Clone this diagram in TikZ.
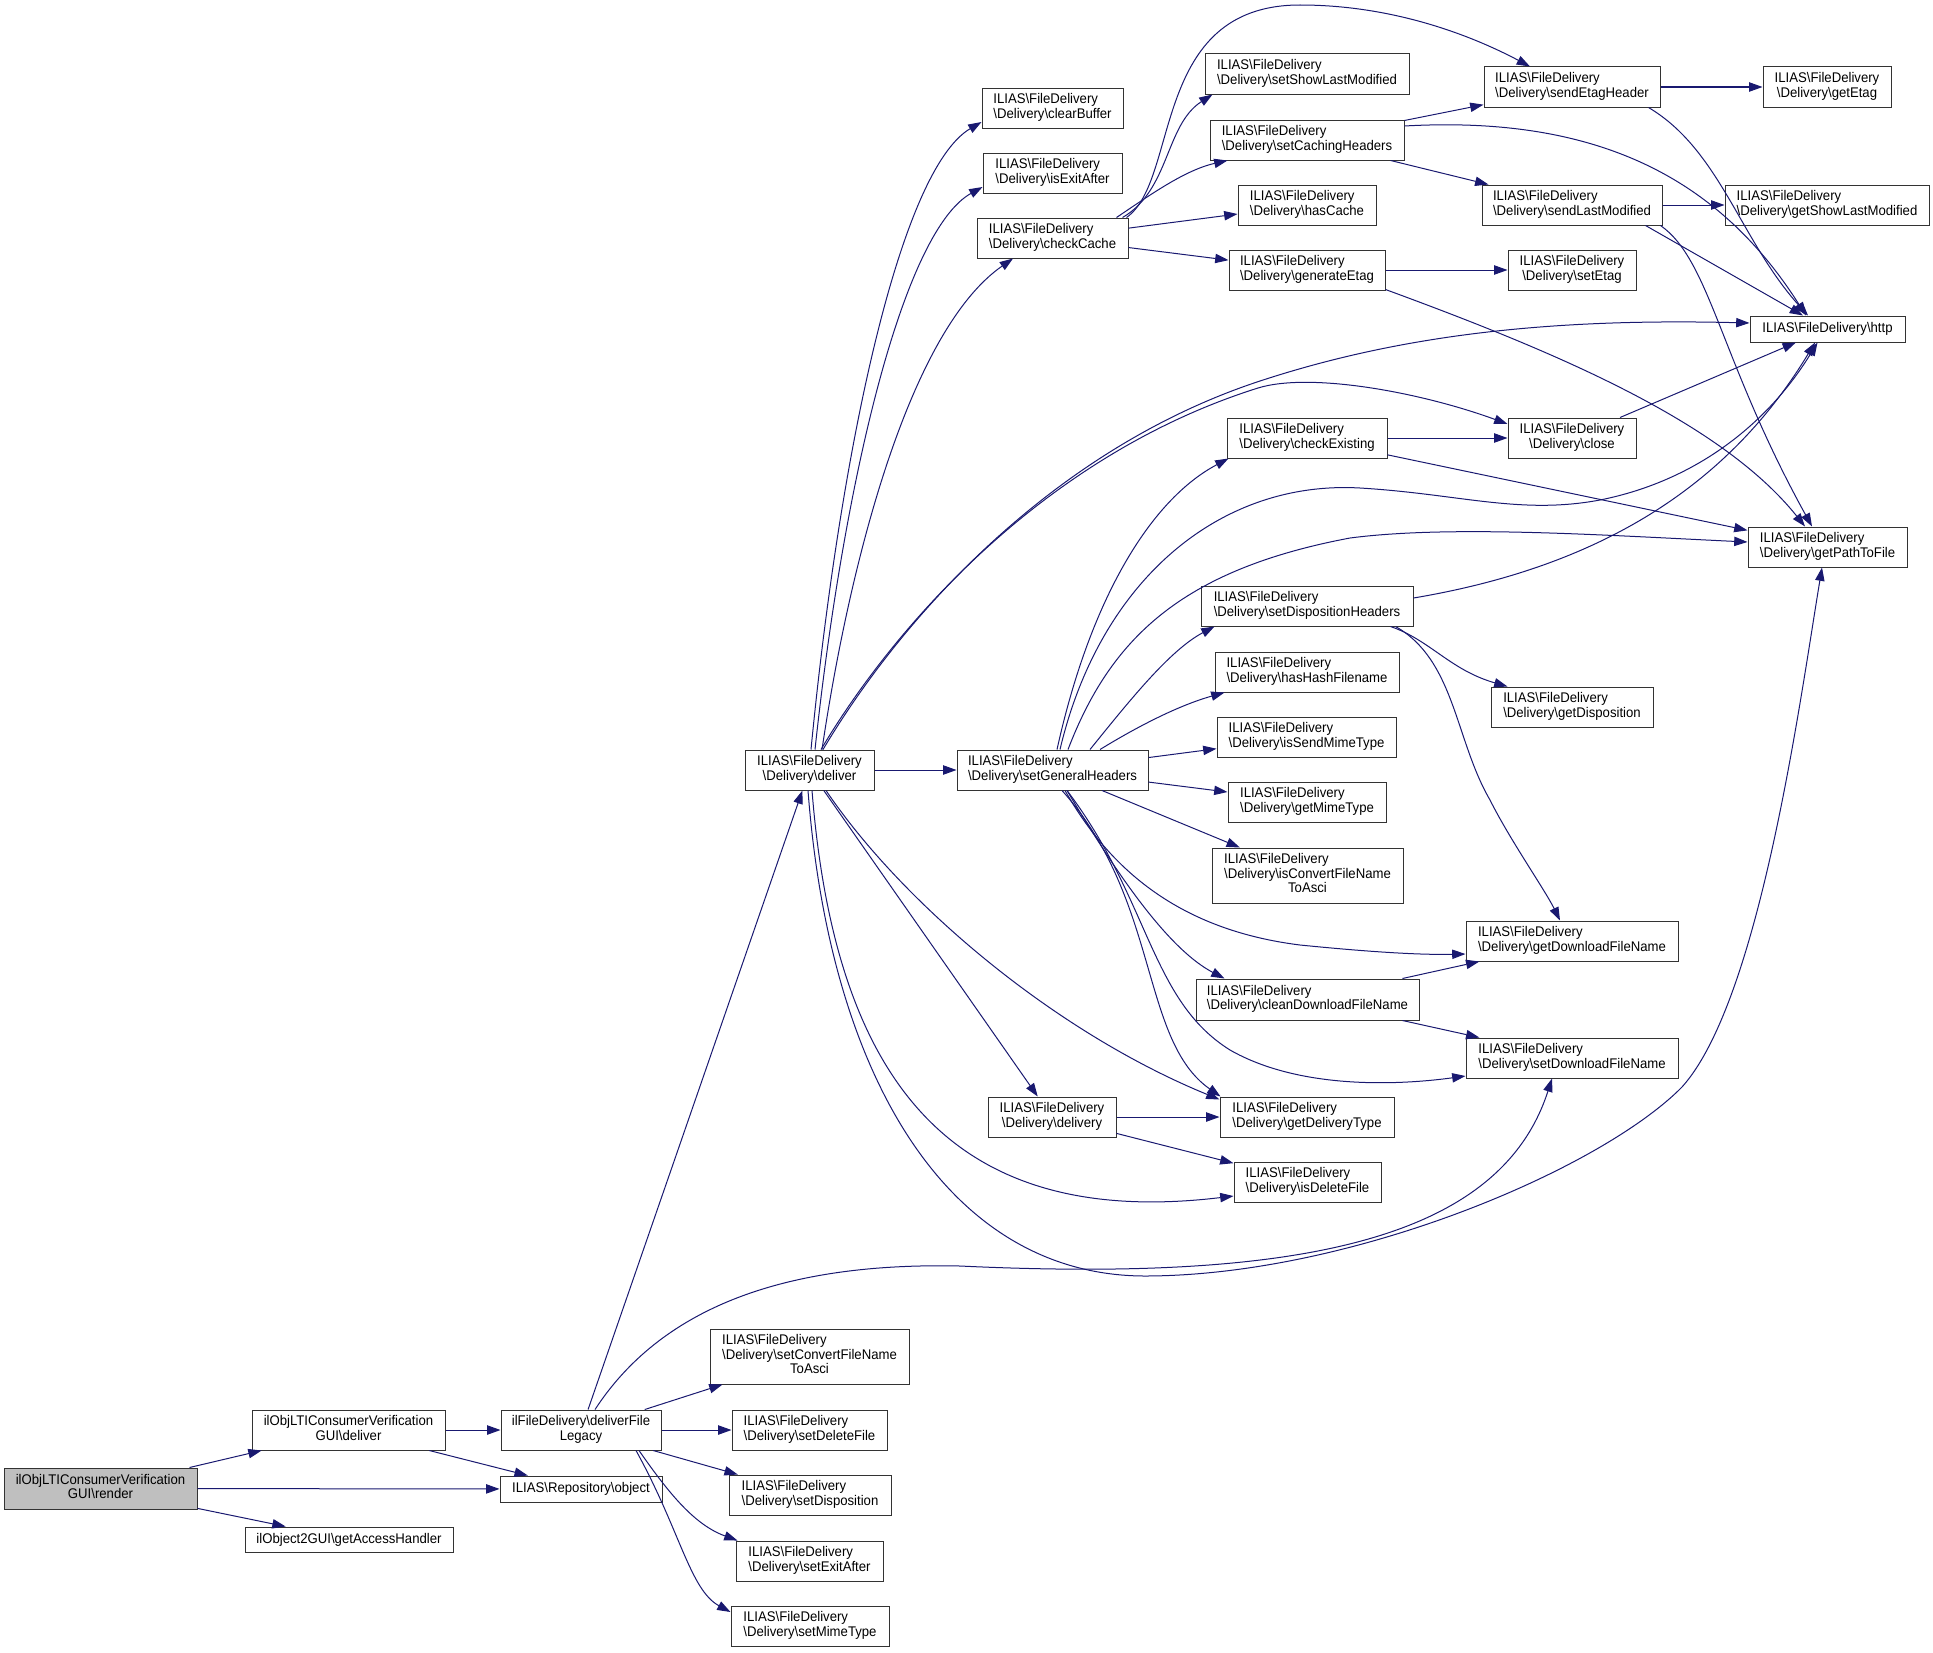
\documentclass[tikz,border=0pt]{standalone}
\usepackage{fontspec}
\setmainfont{Liberation Sans}
\newfontfamily\nodefont[FakeStretch=0.94]{Liberation Sans}
\usetikzlibrary{arrows.meta,calc}
\definecolor{midblue}{RGB}{25,25,112}
\definecolor{rootgray}{RGB}{191,191,191}
\def\Bsl{\textbackslash}
\newcommand{\twol}[2]{\begin{tabular}{@{}l@{}}#1\\\multicolumn{1}{@{}c@{}}{#2}\end{tabular}}
\newcommand{\threel}[3]{\begin{tabular}{@{}l@{}}#1\\#2\\\multicolumn{1}{@{}c@{}}{#3}\end{tabular}}
\newcommand{\fdl}[1]{\twol{ILIAS\Bsl FileDelivery}{\Bsl Delivery\Bsl #1}}
\begin{document}
\begin{tikzpicture}[x=0.75pt,y=-0.75pt,
  fnbox/.style={draw=black!80, line width=0.75pt, fill=white, inner sep=0pt, align=center,
    font=\nodefont\fontsize{10.5}{10.9}\selectfont},
  bw/.style={minimum width={#1*0.75pt}},
  bh/.style={minimum height={#1*0.75pt}},
  callarrow/.style={draw=midblue, line width=0.75pt, -{Triangle[length=10pt,width=7pt]}}]
\useasboundingbox (0,0) rectangle (1933,1652);

% ---------- nodes ----------
\node[fnbox,fill=rootgray,bw=193,bh=41] (render) at (100.5,1488.5) {\twol{ilObjLTIConsumerVerification}{GUI\Bsl render}};
\node[fnbox,bw=193,bh=40] (guideliver) at (348.5,1430) {\twol{ilObjLTIConsumerVerification}{GUI\Bsl deliver}};
\node[fnbox,bw=208,bh=25] (access) at (349,1539.5) {ilObject2GUI\Bsl getAccessHandler};
\node[fnbox,bw=160,bh=40] (legacy) at (581,1430) {\twol{ilFileDelivery\Bsl deliverFile}{Legacy}};
\node[fnbox,bw=162,bh=26] (object) at (581,1489) {ILIAS\Bsl Repository\Bsl object};
\node[fnbox,bw=199,bh=55] (setconv) at (809.5,1356.5) {\threel{ILIAS\Bsl FileDelivery}{\Bsl Delivery\Bsl setConvertFileName}{ToAsci}};
\node[fnbox,bw=155,bh=40] (setdel) at (809.5,1430) {\fdl{setDeleteFile}};
\node[fnbox,bw=162,bh=40] (setdisp) at (810,1495) {\fdl{setDisposition}};
\node[fnbox,bw=147,bh=40] (setexit) at (809.5,1561) {\fdl{setExitAfter}};
\node[fnbox,bw=158,bh=40] (setmime) at (810,1626) {\fdl{setMimeType}};
\node[fnbox,bw=129,bh=40] (deliver) at (809.5,770) {\fdl{deliver}};
\node[fnbox,bw=141,bh=40] (clearbuf) at (1052.5,108) {\fdl{clearBuffer}};
\node[fnbox,bw=139,bh=40] (isexit) at (1052.5,173) {\fdl{isExitAfter}};
\node[fnbox,bw=151,bh=40] (checkcache) at (1052.5,238) {\fdl{checkCache}};
\node[fnbox,bw=191,bh=40] (genhdr) at (1052.5,770) {\fdl{setGeneralHeaders}};
\node[fnbox,bw=128,bh=40] (delivery) at (1052,1117) {\fdl{delivery}};
\node[fnbox,bw=204,bh=40] (setshowlm) at (1307,74) {\fdl{setShowLastModified}};
\node[fnbox,bw=194,bh=40] (setcaching) at (1307,140) {\fdl{setCachingHeaders}};
\node[fnbox,bw=138,bh=40] (hascache) at (1307,205) {\fdl{hasCache}};
\node[fnbox,bw=156,bh=40] (genetag) at (1307,270) {\fdl{generateEtag}};
\node[fnbox,bw=160,bh=40] (checkexist) at (1307,438) {\fdl{checkExisting}};
\node[fnbox,bw=212,bh=40] (setdisphdr) at (1307,606) {\fdl{setDispositionHeaders}};
\node[fnbox,bw=184,bh=40] (hashash) at (1307,672) {\fdl{hasHashFilename}};
\node[fnbox,bw=179,bh=40] (issendmime) at (1306.5,737) {\fdl{isSendMimeType}};
\node[fnbox,bw=158,bh=40] (getmime) at (1307,802) {\fdl{getMimeType}};
\node[fnbox,bw=191,bh=55] (isconv) at (1307.5,875.5) {\threel{ILIAS\Bsl FileDelivery}{\Bsl Delivery\Bsl isConvertFileName}{ToAsci}};
\node[fnbox,bw=223,bh=41] (cleandl) at (1307.5,999.5) {\fdl{cleanDownloadFileName}};
\node[fnbox,bw=174,bh=40] (getdeltype) at (1307,1117) {\fdl{getDeliveryType}};
\node[fnbox,bw=147,bh=40] (isdel) at (1307.5,1182) {\fdl{isDeleteFile}};
\node[fnbox,bw=176,bh=40] (sendetag) at (1572,87) {\fdl{sendEtagHeader}};
\node[fnbox,bw=180,bh=40] (sendlm) at (1572,205) {\fdl{sendLastModified}};
\node[fnbox,bw=128,bh=40] (setetag) at (1572,270) {\fdl{setEtag}};
\node[fnbox,bw=128,bh=40] (close) at (1572,438) {\fdl{close}};
\node[fnbox,bw=162,bh=40] (getdisp) at (1572,707) {\fdl{getDisposition}};
\node[fnbox,bw=212,bh=40] (getdl) at (1572,941) {\fdl{getDownloadFileName}};
\node[fnbox,bw=212,bh=40] (setdl) at (1572,1058) {\fdl{setDownloadFileName}};
\node[fnbox,bw=128,bh=40] (getetag) at (1827,87) {\fdl{getEtag}};
\node[fnbox,bw=204,bh=40] (getshowlm) at (1827,205) {\fdl{getShowLastModified}};
\node[fnbox,bw=155,bh=26] (http) at (1827.5,329) {ILIAS\Bsl FileDelivery\Bsl http};
\node[fnbox,bw=159,bh=40] (getpath) at (1827.5,547) {\fdl{getPathToFile}};

% ---------- straight connectors ----------
\draw[callarrow] (render) -- (guideliver);
\draw[callarrow] (render) -- (object);
\draw[callarrow] (render) -- (access);
\draw[callarrow] (guideliver) -- (legacy);
\draw[callarrow] (guideliver) -- (object);
\draw[callarrow] (legacy) -- (deliver);
\draw[callarrow] (legacy) -- (setconv);
\draw[callarrow] (legacy) -- (setdel);
\draw[callarrow] (legacy) -- (setdisp);
\draw[callarrow] (deliver) -- (genhdr);
\draw[callarrow] (deliver) -- (delivery);
\draw[callarrow] (checkcache) -- (hascache);
\draw[callarrow] (checkcache) -- (genetag);
\draw[callarrow] (setcaching) -- (sendetag);
\draw[callarrow] (setcaching) -- (sendlm);
\draw[callarrow] (sendetag) -- (getetag);
\draw[callarrow] (sendlm) -- (getshowlm);
\draw[callarrow] (genetag) -- (setetag);
\draw[callarrow] (checkexist) -- (close);
\draw[callarrow] (checkexist) -- (getpath);
\draw[callarrow] (close) -- (http);
\draw[callarrow] (genhdr) -- (issendmime);
\draw[callarrow] (genhdr) -- (getmime);
\draw[callarrow] (genhdr) -- (isconv);
\draw[callarrow] (cleandl) -- (getdl);
\draw[callarrow] (cleandl) -- (setdl);
\draw[callarrow] (delivery) -- (getdeltype);
\draw[callarrow] (delivery) -- (isdel);
\draw[callarrow] ($(sendlm.south east)+(-17,0)$) -- ($(http.north)+(-24.5,0)$);

% ---------- curved connectors ----------
% from deliverFileLegacy
\draw[callarrow] ($(legacy.north)+(14,0)$) .. controls (660,1310) and (780,1262) .. (960,1266)
  .. controls (1300,1282) and (1500,1240) .. ($(setdl.south)+(-20,0)$);
\draw[callarrow] ($(legacy.south)+(58,0)$) .. controls (670,1495) and (695,1525) .. ($(setexit.north west)+(2,0)$);
\draw[callarrow] ($(legacy.south)+(55,0)$) .. controls (680,1530) and (690,1590) .. ($(setmime.west)+(0,-14)$);

% from deliver
\draw[callarrow] ($(deliver.north)+(1.5,0)$) .. controls (840,450) and (900,170) .. ($(clearbuf.west)+(0,14)$);
\draw[callarrow] ($(deliver.north)+(5.5,0)$) .. controls (845,470) and (905,230) .. ($(isexit.west)+(0,14)$);
\draw[callarrow] ($(deliver.north)+(12.5,0)$) .. controls (850,560) and (910,330) .. ($(checkcache.south)+(-39.5,0)$);
\draw[callarrow] ($(deliver.north)+(13.5,0)$) .. controls (900,620) and (1050,450) .. (1260,381)
  .. controls (1400,335) and (1550,318) .. ($(http.west)+(0,-6)$);
\draw[callarrow] ($(deliver.north)+(11.5,0)$) .. controls (895,625) and (1045,455) .. (1258,388)
  .. controls (1310,372) and (1420,392) .. ($(close.west)+(0,-14)$);
\draw[callarrow] ($(deliver.south)+(16.5,0)$) .. controls (900,900) and (1050,1030) .. ($(getdeltype.north west)+(0,3)$);
\draw[callarrow] ($(deliver.south)+(2.5,0)$) .. controls (835,1080) and (950,1230) .. ($(isdel.west)+(0,14)$);
\draw[callarrow] ($(deliver.south)+(-1.5,0)$) .. controls (830,1080) and (950,1275) .. (1144,1276)
  .. controls (1350,1276) and (1600,1170) .. (1682,1087)
  .. controls (1760,1000) and (1800,700) .. ($(getpath.south)+(-5.5,0)$);

% from checkCache
\draw[callarrow] ($(checkcache.north east)+(-6,0)$) .. controls (1170,190) and (1165,125) .. ($(setshowlm.south west)+(8,0)$);
\draw[callarrow] ($(checkcache.north east)+(-2,0)$) .. controls (1180,180) and (1150,5) .. (1300,5)
  .. controls (1400,5) and (1480,40) .. ($(sendetag.north)+(-42,0)$);
\draw[callarrow] ($(checkcache.north east)+(-12,0)$) .. controls (1150,195) and (1185,170) .. ($(setcaching.south west)+(18,0)$);

% caching helpers
\draw[callarrow] ($(setcaching.east)+(0,-14)$) .. controls (1600,115) and (1720,180) .. ($(http.north)+(-21.5,0)$);
\draw[callarrow] ($(sendetag.south east)+(-12,0)$) .. controls (1720,150) and (1740,240) .. ($(http.north)+(-19.5,0)$);
\draw[callarrow] ($(sendlm.south east)+(-2,0)$) .. controls (1710,260) and (1720,360) .. ($(getpath.north)+(-15.5,0)$);
\draw[callarrow] ($(genetag.south east)+(0,-1)$) .. controls (1550,350) and (1720,420) .. ($(getpath.north)+(-22.5,0)$);

% from setDispositionHeaders
\draw[callarrow] ($(setdisphdr.east)+(0,-8)$) .. controls (1580,570) and (1720,500) .. ($(http.south)+(-12.5,0)$);
\draw[callarrow] ($(setdisphdr.south east)+(-23,0)$) .. controls (1430,640) and (1450,670) .. ($(getdisp.north west)+(17,0)$);
\draw[callarrow] ($(setdisphdr.south east)+(-18,0)$) .. controls (1455,660) and (1455,740) .. (1490,800)
  .. controls (1510,840) and (1545,890) .. ($(getdl.north)+(-12,0)$);

% from setGeneralHeaders
\draw[callarrow] ($(genhdr.north)+(4.5,0)$) .. controls (1090,600) and (1150,500) .. ($(checkexist.south west)+(2,0)$);
\draw[callarrow] ($(genhdr.north)+(7.5,0)$) .. controls (1100,580) and (1220,480) .. (1360,488)
  .. controls (1460,494) and (1520,515) .. (1600,500)
  .. controls (1700,480) and (1770,420) .. ($(http.south)+(-10,0)$);
\draw[callarrow] ($(genhdr.north)+(15.5,0)$) .. controls (1110,640) and (1180,570) .. (1350,538)
  .. controls (1450,525) and (1600,535) .. ($(getpath.west)+(0,-5)$);
\draw[callarrow] ($(genhdr.north)+(37.5,0)$) .. controls (1130,700) and (1170,650) .. ($(setdisphdr.south west)+(14,0)$);
\draw[callarrow] ($(genhdr.north)+(47.5,0)$) .. controls (1140,725) and (1180,705) .. ($(hashash.south west)+(10,0)$);
\draw[callarrow] ($(genhdr.south)+(12.5,0)$) .. controls (1110,870) and (1180,930) .. (1300,945)
  .. controls (1370,952) and (1420,955) .. ($(getdl.west)+(0,13)$);
\draw[callarrow] ($(genhdr.south)+(14.5,0)$) .. controls (1120,880) and (1170,950) .. ($(cleandl.north west)+(29,0)$);
\draw[callarrow] ($(genhdr.south)+(14.5,0)$) .. controls (1150,900) and (1150,1000) .. (1230,1050)
  .. controls (1300,1090) and (1400,1085) .. ($(setdl.west)+(0,18)$);
\draw[callarrow] ($(genhdr.south)+(9.5,0)$) .. controls (1160,900) and (1140,1040) .. ($(getdeltype.north west)+(1,0)$);
\end{tikzpicture}
\end{document}
